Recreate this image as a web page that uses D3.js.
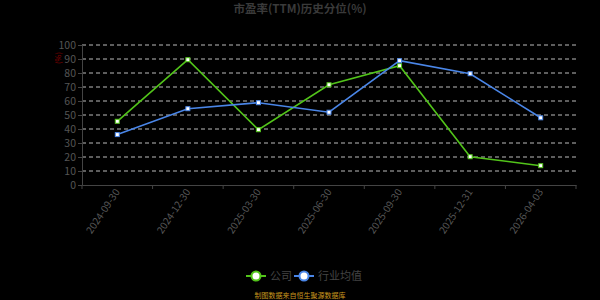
<!DOCTYPE html>
<html>
<head>
<meta charset="utf-8">
<script src="https://cdn.jsdelivr.net/npm/d3@7"></script>
<style>
body { margin: 0; background: #000; }
text { font-family: "Noto Sans CJK SC", "Noto Sans", sans-serif; }
</style>
</head>
<body>
<svg id="chart"></svg>
<script>
var width = 600, height = 300

var dates = ["2024-09-30", "2024-12-30", "2025-03-30", "2025-06-30", "2025-09-30", "2025-12-31", "2026-04-03"]
var company = [45.5, 89.5, 39.5, 71.6, 85.2, 20.2, 13.8]
var industry = [36, 54.5, 58.8, 52, 88.8, 79.5, 48]
var yTicks = [0, 10, 20, 30, 40, 50, 60, 70, 80, 90, 100]

const svg = d3.select('#chart')
    .attr("width", width)
    .attr("height", height)

svg.append("rect").attr("width", width).attr("height", height).attr("fill", "#000")

var x = d3.scaleBand().domain(dates).range([82, 576])
var y = d3.scaleLinear().domain([0, 100]).range([185, 45])

// title
svg.append("text")
    .attr("x", 300).attr("y", 13)
    .attr("text-anchor", "middle")
    .attr("font-size", 11.5).attr("font-weight", "bold")
    .attr("fill", "#3a3a3a")
    .text("市盈率(TTM)历史分位(%)")

// grid
svg.append("g")
    .selectAll("line")
    .data(yTicks.filter(function(d){ return d > 0 }))
    .enter()
    .append("line")
    .attr("x1", 82).attr("x2", 576)
    .attr("y1", function(d){ return y(d) }).attr("y2", function(d){ return y(d) })
    .attr("stroke", "#bbb")
    .attr("stroke-dasharray", "4,3")
    .attr("stroke-width", 1)

// y axis
var yAxis = svg.append("g")
    .attr("transform", "translate(82,0)")
    .call(d3.axisLeft(y).tickValues(yTicks).tickSize(4).tickPadding(2))
yAxis.select(".domain").attr("stroke", "#444")
yAxis.selectAll(".tick line").attr("stroke", "#444")
yAxis.selectAll("text").attr("fill", "#555").attr("font-size", 10.5).attr("font-family", "Noto Sans, sans-serif")

svg.append("text")
    .attr("transform", "translate(61,58) rotate(-90)")
    .attr("text-anchor", "middle")
    .attr("font-size", 7.5)
    .attr("fill", "#8b0000")
    .text("(%)")

// x axis
var xAxis = svg.append("g")
    .attr("transform", "translate(0,185)")
    .call(d3.axisBottom(x).tickSize(0).tickFormat(""))
xAxis.select(".domain").attr("stroke", "#444")
xAxis.selectAll(".tick").remove()

var edges = dates.map(function(d){ return x(d) }).concat([576])
xAxis.selectAll("line.edge")
    .data(edges)
    .enter()
    .append("line")
    .attr("class", "edge")
    .attr("x1", function(d){ return d }).attr("x2", function(d){ return d })
    .attr("y1", 0).attr("y2", 4)
    .attr("stroke", "#444")

svg.append("g")
    .selectAll("text")
    .data(dates)
    .enter()
    .append("text")
    .attr("transform", function(d){ return "translate(" + (x(d) + x.bandwidth() / 2 + 3) + ",192) rotate(-56)" })
    .attr("text-anchor", "end")
    .attr("font-size", 10)
    .attr("font-family", "Noto Sans, sans-serif")
    .attr("fill", "#555")
    .text(function(d){ return d })

var line = d3.line()
    .x(function(d, i){ return x(dates[i]) + x.bandwidth() / 2 })
    .y(function(d){ return y(d) })

function drawSeries(values, color) {
    svg.append("path")
        .attr("d", line(values))
        .attr("fill", "none")
        .attr("stroke", color)
        .attr("stroke-width", 1.6)
    svg.append("g")
        .selectAll("rect")
        .data(values)
        .enter()
        .append("rect")
        .attr("x", function(d, i){ return x(dates[i]) + x.bandwidth() / 2 - 2 })
        .attr("y", function(d){ return y(d) - 2 })
        .attr("width", 4).attr("height", 4)
        .attr("fill", "#fff")
        .attr("stroke", color)
        .attr("stroke-width", 1)
}

drawSeries(company, "#52c41a")
drawSeries(industry, "#4a86e8")

// legend
var legend = [["公司", "#52c41a", 246], ["行业均值", "#4a86e8", 294]]
legend.forEach(function(l){
    var g = svg.append("g").attr("transform", "translate(" + l[2] + ",276)")
    g.append("line").attr("x1", 0).attr("x2", 20).attr("stroke", l[1]).attr("stroke-width", 2)
    g.append("circle").attr("cx", 10).attr("r", 4.5).attr("fill", "#fff").attr("stroke", l[1]).attr("stroke-width", 2)
    g.append("text").attr("x", 24).attr("y", 4).attr("font-size", 11).attr("fill", "#444").text(l[0])
})

svg.append("text")
    .attr("x", 300).attr("y", 298)
    .attr("text-anchor", "middle")
    .attr("font-size", 7)
    .attr("fill", "#c8961e")
    .text("制图数据来自恒生聚源数据库")
</script>
</body>
</html>
